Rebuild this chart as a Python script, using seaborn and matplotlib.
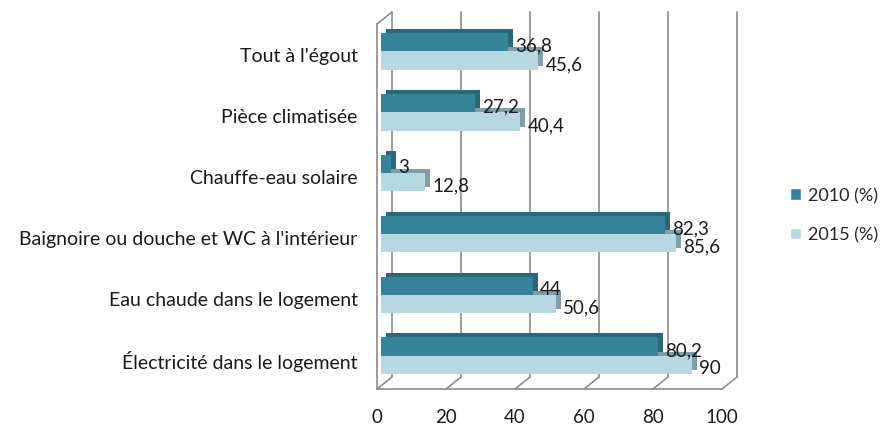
import matplotlib
matplotlib.use("Agg")
import matplotlib.pyplot as plt
import matplotlib.transforms as mtransforms
from matplotlib.patches import Rectangle
import pandas as pd
import seaborn as sns

categories = ["Tout à l'égout", "Pièce climatisée", "Chauffe-eau solaire",
              "Baignoire ou douche et WC à l'intérieur",
              "Eau chaude dans le logement", "Électricité dans le logement"]
v2010 = [36.8, 27.2, 3, 82.3, 44, 80.2]
v2015 = [45.6, 40.4, 12.8, 85.6, 50.6, 90]
series = ["2010 (%)", "2015 (%)"]
xticks = [0, 20, 40, 60, 80, 100]

dark, light = "#37849A", "#B7D7E1"
dark_side, light_side = "#296878", "#7F9EA7"
grid_col = "#8C8C8C"

df = pd.DataFrame({
    "cat": categories * 2,
    "val": v2010 + v2015,
    "year": [series[0]] * len(categories) + [series[1]] * len(categories),
})

sns.set_style("white")
plt.rcParams["font.family"] = ["Lato", "DejaVu Sans"]
W, H = 8.84, 4.27

fig = plt.figure(figsize=(W, H), dpi=100)
ax = fig.add_axes([377 / 884, 1 - 390 / 427, 345 / 884, 365 / 427])

sns.barplot(data=df, y="cat", x="val", hue="year", orient="h", width=0.6,
            palette=[dark, light], saturation=1, ax=ax, legend=False, zorder=3)

ax.set_xlim(0, 100)
ax.set_ylim(len(categories) - 0.5, -0.5)
ax.set_xlabel("")
ax.set_ylabel("")
for s in ax.spines.values():
    s.set_visible(False)
ax.set_xticks(xticks)
ax.tick_params(axis="x", length=0, pad=14, labelsize=13.5, colors="#1a1a1a")
ax.tick_params(axis="y", length=0, pad=14, labelsize=14, colors="#1a1a1a")


def fig_line(p0, p1):
    fig.add_artist(plt.Line2D([p0[0] / fig.dpi / W, p1[0] / fig.dpi / W],
                              [p0[1] / fig.dpi / H, p1[1] / fig.dpi / H],
                              color=grid_col, lw=1.2))


# back wall gridlines + floor / wall edges (fake 3D)
blend = mtransforms.blended_transform_factory(ax.transData, ax.transAxes)
back = mtransforms.offset_copy(blend, fig=fig, x=15, y=12, units="dots")
for x in xticks:
    ax.plot([x, x], [0, 1], transform=back, color=grid_col, lw=1.2,
            clip_on=False, zorder=1)
    fig_line(blend.transform((x, 0)), back.transform((x, 0)))
ax.plot([0, 100], [0, 0], transform=blend, color=grid_col, lw=1.2, clip_on=False)
ax.plot([0, 0], [0, 1], transform=blend, color=grid_col, lw=1.2, clip_on=False)
fig_line(blend.transform((0, 1)), back.transform((0, 1)))

# bars sit a little inside the box, with a depth face behind them
mid = mtransforms.offset_copy(ax.transData, fig=fig, x=4, y=3, units="dots")
shift = mtransforms.offset_copy(ax.transData, fig=fig, x=9, y=7, units="dots")
for cont, side in zip(ax.containers, [dark_side, light_side]):
    for bar in cont.patches:
        bar.set_transform(mid)
        bar.set_edgecolor("none")
        sh = Rectangle(bar.get_xy(), bar.get_width(), bar.get_height(),
                       transform=shift, facecolor=side, edgecolor="none",
                       zorder=2.5 if side == light_side else 2.8)
        ax.add_patch(sh)

for cont, vals in zip(ax.containers, [v2010, v2015]):
    labels = [f"{v:g}".replace(".", ",") for v in vals]
    ax.bar_label(cont, labels=labels, padding=8, fontsize=13.5,
                 color="#1a1a1a", zorder=5)

handles = [Rectangle((0, 0), 1, 1, facecolor=c) for c in [dark, light]]
fig.legend(handles, series, loc="center left",
           bbox_to_anchor=(790 / 884, 1 - 216 / 427), frameon=False,
           fontsize=13, handlelength=0.6, handleheight=0.6,
           handletextpad=0.4, labelspacing=1.3, borderpad=0, borderaxespad=0)

fig.savefig("out.png", dpi=100)
